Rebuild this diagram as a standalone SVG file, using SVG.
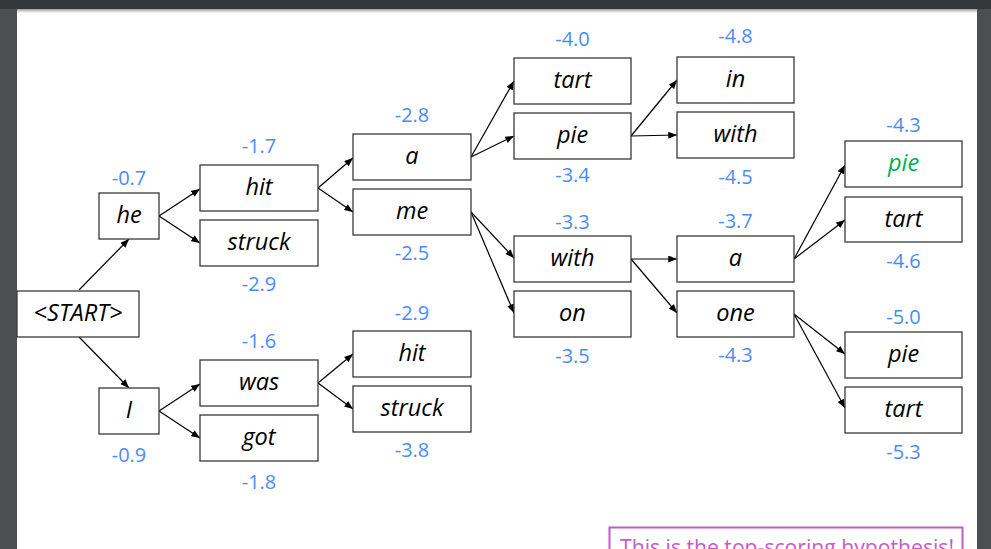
<svg xmlns="http://www.w3.org/2000/svg" width="991" height="549" viewBox="0 0 991 549">
<defs>
<style>
.box{fill:#fff;stroke:#3a3a3a;stroke-width:1.3}
.w{font-family:"Open Sans","Liberation Sans",sans-serif;font-style:italic;font-size:23.5px;fill:#000;text-anchor:middle}
.s{font-family:"Open Sans","Liberation Sans",sans-serif;font-size:20px;fill:#4a8cf7;text-anchor:middle}
.c line{stroke:#000;stroke-width:1.2;marker-end:url(#ah)}
</style>
<marker id="ah" viewBox="0 0 10 8" refX="10" refY="4" markerWidth="9" markerHeight="7" markerUnits="userSpaceOnUse" orient="auto">
<path d="M0,0 L10,4 L0,8 z" fill="#000"/>
</marker>
<linearGradient id="sh" x1="0" y1="0" x2="0" y2="1">
<stop offset="0" stop-color="#9a9c9e"/>
<stop offset="1" stop-color="#ffffff"/>
</linearGradient>
</defs>
<rect x="0" y="0" width="991" height="549" fill="#fff"/>
<rect x="0" y="0" width="17" height="549" fill="#4b4f52"/>
<rect x="977" y="0" width="14" height="549" fill="#4b4f52"/>
<rect x="0" y="0" width="991" height="9" fill="#33373a"/>
<rect x="17" y="9" width="960" height="4" fill="url(#sh)"/>

<g class="c" id="connectors">
<line x1="79" y1="290" x2="129" y2="239"/>
<line x1="79" y1="337" x2="129" y2="388"/>
<line x1="159" y1="216" x2="200" y2="189"/>
<line x1="159" y1="216" x2="200" y2="243"/>
<line x1="159" y1="411" x2="200" y2="384"/>
<line x1="159" y1="411" x2="200" y2="438"/>
<line x1="318" y1="188" x2="353" y2="158"/>
<line x1="318" y1="188" x2="353" y2="212"/>
<line x1="318" y1="383" x2="353" y2="354"/>
<line x1="318" y1="383" x2="353" y2="409"/>
<line x1="471" y1="157" x2="514" y2="81"/>
<line x1="471" y1="157" x2="514" y2="136"/>
<line x1="471" y1="212" x2="514" y2="258"/>
<line x1="471" y1="212" x2="514" y2="313"/>
<line x1="631" y1="136" x2="677" y2="80"/>
<line x1="631" y1="136" x2="677" y2="135"/>
<line x1="631" y1="259" x2="677" y2="259"/>
<line x1="631" y1="259" x2="677" y2="313"/>
<line x1="794" y1="259" x2="845" y2="165"/>
<line x1="794" y1="259" x2="845" y2="220"/>
<line x1="794" y1="314" x2="845" y2="354"/>
<line x1="794" y1="314" x2="845" y2="408"/>
</g>

<g id="n-start"><rect class="box" x="17" y="291" width="122" height="46"/><text class="w" x="78" y="321">&lt;START&gt;</text></g>
<g id="n-he"><rect class="box" x="99" y="193" width="60" height="46"/><text class="w" x="129" y="223">he</text><text class="s" x="129" y="185">-0.7</text></g>
<g id="n-i"><rect class="box" x="99" y="388" width="60" height="46"/><text class="w" x="129" y="418">I</text><text class="s" x="129" y="462">-0.9</text></g>
<g id="n-hit"><rect class="box" x="200" y="165" width="118" height="46"/><text class="w" x="259" y="195">hit</text><text class="s" x="259" y="153">-1.7</text></g>
<g id="n-struck"><rect class="box" x="200" y="220" width="118" height="46"/><text class="w" x="259" y="250">struck</text><text class="s" x="259" y="291">-2.9</text></g>
<g id="n-was"><rect class="box" x="200" y="360" width="118" height="46"/><text class="w" x="259" y="390">was</text><text class="s" x="259" y="348">-1.6</text></g>
<g id="n-got"><rect class="box" x="200" y="415" width="118" height="46"/><text class="w" x="259" y="445">got</text><text class="s" x="259" y="489">-1.8</text></g>
<g id="n-a1"><rect class="box" x="353" y="134" width="118" height="46"/><text class="w" x="412" y="164">a</text><text class="s" x="412" y="122">-2.8</text></g>
<g id="n-me"><rect class="box" x="353" y="189" width="118" height="46"/><text class="w" x="412" y="219">me</text><text class="s" x="412" y="260">-2.5</text></g>
<g id="n-hit2"><rect class="box" x="353" y="331" width="118" height="46"/><text class="w" x="412" y="361">hit</text><text class="s" x="412" y="320">-2.9</text></g>
<g id="n-struck2"><rect class="box" x="353" y="386" width="118" height="46"/><text class="w" x="412" y="416">struck</text><text class="s" x="412" y="457">-3.8</text></g>
<g id="n-tart1"><rect class="box" x="514" y="58" width="117" height="46"/><text class="w" x="572.5" y="88">tart</text><text class="s" x="572.5" y="46">-4.0</text></g>
<g id="n-pie1"><rect class="box" x="514" y="113" width="117" height="46"/><text class="w" x="572.5" y="143">pie</text><text class="s" x="572.5" y="182">-3.4</text></g>
<g id="n-with1"><rect class="box" x="514" y="236" width="117" height="46"/><text class="w" x="572.5" y="266">with</text><text class="s" x="572.5" y="229">-3.3</text></g>
<g id="n-on"><rect class="box" x="514" y="291" width="117" height="46"/><text class="w" x="572.5" y="321">on</text><text class="s" x="572.5" y="363">-3.5</text></g>
<g id="n-in"><rect class="box" x="677" y="57" width="117" height="46"/><text class="w" x="735.5" y="87">in</text><text class="s" x="735.5" y="43">-4.8</text></g>
<g id="n-with2"><rect class="box" x="677" y="112" width="117" height="46"/><text class="w" x="735.5" y="142">with</text><text class="s" x="735.5" y="184">-4.5</text></g>
<g id="n-a2"><rect class="box" x="677" y="236" width="117" height="46"/><text class="w" x="735.5" y="266">a</text><text class="s" x="735.5" y="228">-3.7</text></g>
<g id="n-one"><rect class="box" x="677" y="291" width="117" height="46"/><text class="w" x="735.5" y="321">one</text><text class="s" x="735.5" y="362">-4.3</text></g>
<g id="n-pie2"><rect class="box" x="845" y="141" width="117" height="46"/><text class="w" x="903.5" y="171" style="fill:#00b050">pie</text><text class="s" x="903.5" y="132">-4.3</text></g>
<g id="n-tart2"><rect class="box" x="845" y="197" width="117" height="45"/><text class="w" x="903.5" y="227">tart</text><text class="s" x="903.5" y="268">-4.6</text></g>
<g id="n-pie3"><rect class="box" x="845" y="332" width="117" height="46"/><text class="w" x="903.5" y="362">pie</text><text class="s" x="903.5" y="324">-5.0</text></g>
<g id="n-tart3"><rect class="box" x="845" y="387" width="117" height="46"/><text class="w" x="903.5" y="417">tart</text><text class="s" x="903.5" y="459">-5.3</text></g>

<g id="callout">
<rect x="609.5" y="527.5" width="353" height="40" fill="#fff" stroke="#c45bc8" stroke-width="2"/>
<text x="620" y="555" font-family="'Open Sans','Liberation Sans',sans-serif" font-size="21px" textLength="334" lengthAdjust="spacingAndGlyphs" fill="#c45bc8">This is the top-scoring hypothesis!</text>
</g>
</svg>
